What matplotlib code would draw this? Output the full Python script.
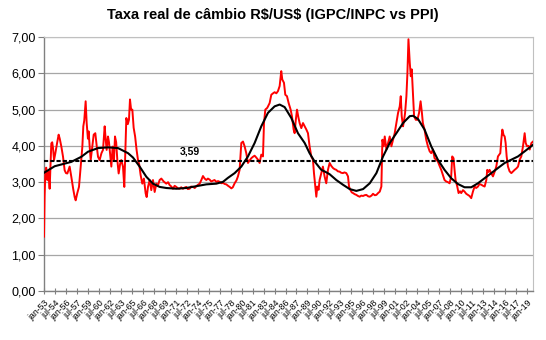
import matplotlib
matplotlib.use("Agg")
import matplotlib.pyplot as plt
import numpy as np

plt.rcParams['font.family'] = ['Liberation Sans', 'DejaVu Sans']

# taxa real mensal, ano decimal -> valor
rate_year = [
    1953.00, 1953.08, 1953.18, 1953.30, 1953.46, 1953.60, 1953.77, 1953.90, 1954.00, 1954.12,
    1954.23, 1954.37, 1954.55, 1954.78, 1955.00, 1955.15, 1955.37, 1955.60, 1955.82, 1956.00,
    1956.19, 1956.50, 1956.73, 1957.00, 1957.19, 1957.33, 1957.55, 1957.78, 1958.00, 1958.24,
    1958.37, 1958.50, 1958.69, 1958.83, 1959.00, 1959.10, 1959.24, 1959.38, 1959.60, 1959.79,
    1960.01, 1960.20, 1960.38, 1960.60, 1960.85, 1961.06, 1961.29, 1961.42, 1961.56, 1961.74,
    1961.88, 1962.02, 1962.20, 1962.38, 1962.56, 1962.70, 1962.86, 1963.02, 1963.20, 1963.40,
    1963.56, 1963.79, 1963.97, 1964.10, 1964.25, 1964.45, 1964.61, 1964.75, 1964.90, 1965.07,
    1965.25, 1965.45, 1965.65, 1965.85, 1966.00, 1966.20, 1966.43, 1966.65, 1966.89, 1967.03,
    1967.21, 1967.44, 1967.66, 1967.89, 1968.12, 1968.35, 1968.55, 1968.80, 1969.03, 1969.35,
    1969.71, 1969.95, 1970.17, 1970.40, 1970.62, 1970.85, 1971.08, 1971.30, 1971.53, 1971.75,
    1971.99, 1972.20, 1972.44, 1972.65, 1972.90, 1973.10, 1973.36, 1973.60, 1973.81, 1974.05,
    1974.27, 1974.50, 1974.72, 1974.95, 1975.18, 1975.40, 1975.64, 1975.85, 1976.09, 1976.30,
    1976.55, 1976.78, 1977.00, 1977.25, 1977.46, 1977.70, 1977.91, 1978.15, 1978.37, 1978.60,
    1978.80, 1979.05, 1979.30, 1979.50, 1979.73, 1979.96, 1980.19, 1980.41, 1980.64, 1980.87,
    1981.10, 1981.32, 1981.55, 1981.78, 1982.00, 1982.24, 1982.46, 1982.69, 1982.92, 1983.06,
    1983.24, 1983.51, 1983.83, 1984.06, 1984.30, 1984.51, 1984.75, 1984.97, 1985.20, 1985.42,
    1985.56, 1985.79, 1985.97, 1986.20, 1986.43, 1986.70, 1986.88, 1987.11, 1987.25, 1987.40,
    1987.57, 1987.75, 1987.93, 1988.16, 1988.39, 1988.60, 1988.85, 1989.07, 1989.29, 1989.52,
    1989.75, 1989.89, 1990.07, 1990.21, 1990.34, 1990.52, 1990.66, 1990.89, 1991.11, 1991.34,
    1991.57, 1991.80, 1992.03, 1992.25, 1992.49, 1992.70, 1992.94, 1993.15, 1993.40, 1993.60,
    1993.85, 1994.05, 1994.31, 1994.54, 1994.68, 1994.86, 1995.05, 1995.23, 1995.45, 1995.68,
    1995.90, 1996.14, 1996.35, 1996.60, 1996.80, 1997.05, 1997.30, 1997.51, 1997.75, 1997.96,
    1998.20, 1998.42, 1998.65, 1998.88, 1999.10, 1999.24, 1999.42, 1999.56, 1999.79, 2000.01,
    2000.24, 2000.47, 2000.69, 2000.92, 2001.15, 2001.38, 2001.61, 2001.75, 2001.88, 2002.06,
    2002.20, 2002.34, 2002.52, 2002.66, 2002.80, 2002.98, 2003.12, 2003.25, 2003.43, 2003.57,
    2003.80, 2004.02, 2004.25, 2004.46, 2004.64, 2004.77, 2005.00, 2005.23, 2005.46, 2005.70,
    2005.91, 2006.14, 2006.37, 2006.60, 2006.82, 2007.05, 2007.28, 2007.50, 2007.73, 2007.96,
    2008.20, 2008.42, 2008.64, 2008.78, 2008.96, 2009.10, 2009.24, 2009.47, 2009.65, 2009.85,
    2010.01, 2010.25, 2010.47, 2010.70, 2010.93, 2011.15, 2011.38, 2011.61, 2011.84, 2012.05,
    2012.30, 2012.50, 2012.75, 2013.00, 2013.21, 2013.44, 2013.57, 2013.75, 2013.89, 2014.10,
    2014.35, 2014.60, 2014.80, 2015.03, 2015.35, 2015.49, 2015.63, 2015.80, 2015.95, 2016.08,
    2016.22, 2016.40, 2016.62, 2016.86, 2017.10, 2017.31, 2017.55, 2017.77, 2018.00, 2018.22,
    2018.45, 2018.68, 2018.82, 2019.00, 2019.20, 2019.37, 2019.60, 2019.82,
]
rate_value = [
    1.50, 2.60, 3.24, 3.40, 3.06, 3.30, 2.82, 3.50, 4.07, 4.10,
    3.94, 3.61, 3.80, 4.07, 4.31, 4.20, 3.98, 3.70, 3.33, 3.25,
    3.24, 3.43, 3.15, 2.80, 2.59, 2.50, 2.70, 2.87, 3.40, 3.98,
    4.54, 4.70, 5.23, 4.63, 4.20, 4.40, 3.98, 3.61, 4.00, 4.31,
    4.35, 4.00, 3.70, 3.61, 3.80, 3.89, 4.54, 4.20, 3.89, 4.26,
    4.10, 3.80, 3.43, 3.98, 3.61, 4.26, 4.10, 3.61, 3.24, 3.50,
    3.61, 3.43, 2.87, 3.80, 4.77, 4.60, 4.72, 5.28, 5.00, 5.00,
    4.50, 4.26, 3.89, 3.60, 3.50, 3.20, 2.96, 3.10, 2.69, 2.59,
    2.87, 3.06, 2.78, 3.06, 2.73, 2.96, 2.90, 3.06, 3.10, 3.02,
    2.96, 3.00, 2.92, 2.88, 2.82, 2.90, 2.87, 2.83, 2.82, 2.86,
    2.82, 2.85, 2.87, 2.81, 2.82, 2.88, 2.87, 2.84, 2.89, 2.93,
    2.96, 3.06, 3.17, 3.10, 3.06, 3.10, 3.07, 3.02, 3.04, 3.06,
    3.01, 3.03, 3.01, 2.97, 2.98, 2.95, 2.94, 2.90, 2.87, 2.83,
    2.86, 2.97, 3.05, 3.16, 3.34, 4.08, 4.12, 3.99, 3.80, 3.53,
    3.60, 3.66, 3.70, 3.73, 3.68, 3.62, 3.53, 3.76, 3.71, 4.63,
    5.00, 5.05, 5.18, 5.41, 5.45, 5.48, 5.45, 5.51, 5.65, 6.06,
    5.83, 5.74, 5.41, 5.37, 5.18, 5.00, 4.82, 4.45, 4.35, 4.70,
    5.00, 4.80, 4.63, 4.49, 4.63, 4.55, 4.45, 4.35, 3.99, 3.71,
    3.62, 3.25, 2.88, 2.60, 2.88, 2.79, 3.06, 3.25, 3.43, 3.16,
    2.97, 3.34, 3.53, 3.45, 3.39, 3.36, 3.34, 3.30, 3.29, 3.26,
    3.25, 3.27, 3.25, 3.16, 2.88, 2.79, 2.72, 2.70, 2.67, 2.65,
    2.62, 2.60, 2.63, 2.62, 2.64, 2.65, 2.61, 2.60, 2.63, 2.68,
    2.64, 2.65, 2.70, 2.74, 2.88, 4.17, 3.99, 4.26, 3.90, 4.08,
    4.26, 3.99, 4.17, 4.35, 4.63, 4.91, 5.09, 5.37, 4.82, 4.54,
    4.70, 4.91, 5.37, 6.01, 6.94, 6.29, 5.92, 6.11, 5.37, 4.82,
    4.72, 4.72, 4.91, 5.23, 4.91, 4.63, 4.45, 4.17, 3.99, 3.85,
    3.80, 3.90, 3.66, 3.62, 3.57, 3.45, 3.34, 3.20, 3.06, 3.02,
    3.00, 2.97, 3.16, 3.71, 3.66, 3.34, 3.06, 2.88, 2.70, 2.75,
    2.70, 2.78, 2.74, 2.68, 2.65, 2.62, 2.56, 2.74, 2.88, 2.84,
    2.88, 2.95, 2.93, 2.90, 2.88, 3.06, 3.34, 3.28, 3.34, 3.25,
    3.16, 3.30, 3.43, 3.71, 3.80, 4.17, 4.45, 4.30, 4.26, 4.08,
    3.71, 3.43, 3.30, 3.25, 3.30, 3.34, 3.38, 3.43, 3.62, 3.71,
    3.99, 4.35, 4.08, 3.99, 4.00, 3.90, 4.08, 4.12,
]

# tendencia suavizada
trend_year = [
    1953.00, 1954.46, 1956.73, 1958.10, 1959.01, 1960.38, 1961.74, 1963.11, 1964.48, 1965.16,
    1966.07, 1966.98, 1967.89, 1968.80, 1969.71, 1971.08, 1972.44, 1973.81, 1975.18, 1976.55,
    1977.46, 1978.14, 1979.05, 1979.96, 1980.87, 1981.78, 1982.69, 1983.60, 1984.51, 1985.20,
    1985.88, 1986.79, 1987.70, 1988.62, 1989.29, 1989.98, 1990.89, 1991.50, 1992.03, 1992.94,
    1993.85, 1994.77, 1995.68, 1996.60, 1997.51, 1998.42, 1999.33, 2000.24, 2001.15, 2002.06,
    2002.98, 2003.43, 2004.11, 2005.00, 2005.91, 2006.82, 2007.73, 2008.64, 2009.56, 2010.47,
    2011.38, 2012.30, 2013.21, 2014.12, 2015.03, 2015.95, 2016.86, 2017.77, 2018.68, 2019.82,
]
trend_value = [
    3.26, 3.44, 3.56, 3.70, 3.84, 3.94, 3.96, 3.94, 3.80, 3.68,
    3.43, 3.15, 2.96, 2.87, 2.84, 2.82, 2.84, 2.89, 2.94, 2.96,
    3.01, 3.12, 3.25, 3.43, 3.71, 4.08, 4.54, 4.91, 5.09, 5.14,
    5.07, 4.77, 4.35, 4.08, 3.80, 3.57, 3.34, 3.28, 3.22, 3.06,
    2.93, 2.81, 2.76, 2.81, 2.97, 3.25, 3.71, 4.08, 4.35, 4.63,
    4.82, 4.83, 4.74, 4.45, 3.99, 3.62, 3.34, 3.11, 2.95, 2.86,
    2.86, 2.97, 3.11, 3.25, 3.39, 3.53, 3.62, 3.71, 3.85, 4.03,
]

mean_rate = 3.59

tick_labels = [
    'jan-53', 'jul-54', 'jan-56', 'jul-57', 'jan-59', 'jul-60', 'jan-62', 'jul-63', 'jan-65',
    'jul-66', 'jan-68', 'jul-69', 'jan-71', 'jul-72', 'jan-74', 'jul-75', 'jan-77', 'jul-78',
    'jan-80', 'jul-81', 'jan-83', 'jul-84', 'jan-86', 'jul-87', 'jan-89', 'jul-90', 'jan-92',
    'jul-93', 'jan-95', 'jul-96', 'jan-98', 'jul-99', 'jan-01', 'jul-02', 'jan-04', 'jul-05',
    'jan-07', 'jul-08', 'jan-10', 'jul-11', 'jan-13', 'jul-14', 'jan-16', 'jul-17', 'jan-19',
]
tick_pos = 1953 + 1.5 * np.arange(len(tick_labels))

fig = plt.figure(figsize=(5.46, 3.40), dpi=100)
ax = fig.add_axes([0.0806, 0.144, 0.896, 0.747])

ax.set_xlim(1953.0, 2019.85)
ax.set_ylim(0, 7)
ax.set_yticks(np.arange(0, 8))
ax.set_yticklabels([f"{v:.2f}".replace('.', ',') for v in range(8)], fontsize=9)
ax.yaxis.grid(True, color='#a6a6a6', linewidth=0.9)
ax.set_axisbelow(True)

ax.plot(rate_year, rate_value, color='#ff0000', linewidth=1.4, zorder=3)
ax.plot(trend_year, trend_value, color='black', linewidth=1.5, zorder=4)
ax.axhline(mean_rate, color='black', linewidth=1.5, linestyle=(0, (2, 1)), zorder=5)
ax.text(1972.9, mean_rate + 0.12, "3,59", fontsize=7.5, fontweight='bold',
        ha='center', va='bottom', zorder=6)

ax.set_xticks(tick_pos)
ax.set_xticklabels(tick_labels, rotation=45, ha='right', rotation_mode='anchor', fontsize=6.3)
ax.tick_params(axis='x', direction='inout', length=5, width=0.8, color='#808080', pad=3)
ax.tick_params(axis='y', direction='out', length=4, width=0.8, color='#808080', pad=2)

for side in ['left', 'bottom']:
    ax.spines[side].set_color('#808080')
    ax.spines[side].set_linewidth(1.0)
for side in ['top', 'right']:
    ax.spines[side].set_color('#c0c0c0')
    ax.spines[side].set_linewidth(0.8)

fig.text(0.50, 0.955, r"Taxa real de câmbio R\$/US\$ (IGPC/INPC vs PPI)",
         fontsize=10.5, fontweight='bold', ha='center', va='center')

fig.savefig("out.png", dpi=100)
